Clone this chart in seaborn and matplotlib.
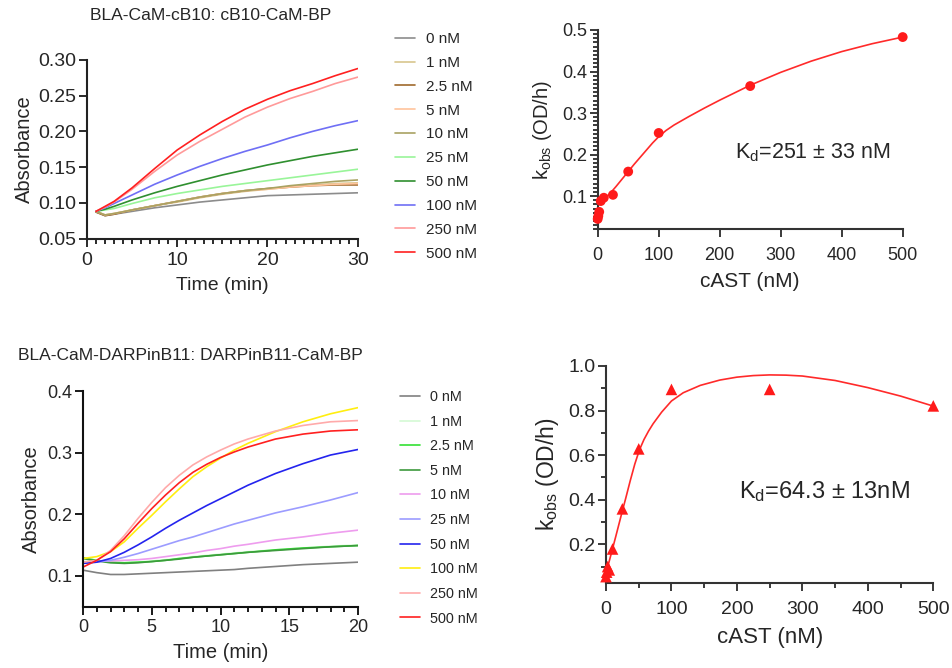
import numpy as np
import pandas as pd
import matplotlib
matplotlib.use('Agg')
import matplotlib.pyplot as plt
import seaborn as sns
from matplotlib.ticker import MultipleLocator, FormatStrFormatter, FixedLocator

# ---------------- data ----------------
conc_labels = ['0 nM', '1 nM', '2.5 nM', '5 nM', '10 nM', '25 nM', '50 nM', '100 nM', '250 nM', '500 nM']

# Panel A: BLA-CaM-cB10 kinetics
time_a = [1, 2, 3, 5, 7.5, 10, 12.5, 15, 17.5, 20, 22.5, 25, 27.5, 30]
a_0 = [0.087, 0.082, 0.084, 0.088, 0.093, 0.097, 0.101, 0.104, 0.107, 0.110, 0.111, 0.112, 0.113, 0.114]
a_1 = [0.088, 0.083, 0.085, 0.090, 0.096, 0.101, 0.107, 0.112, 0.116, 0.119, 0.122, 0.125, 0.127, 0.128]
a_2p5 = [0.087, 0.082, 0.084, 0.090, 0.096, 0.102, 0.108, 0.113, 0.117, 0.120, 0.122, 0.124, 0.125, 0.125]
a_5 = [0.088, 0.083, 0.085, 0.090, 0.096, 0.102, 0.108, 0.113, 0.117, 0.119, 0.122, 0.124, 0.126, 0.127]
a_10 = [0.088, 0.083, 0.085, 0.090, 0.096, 0.102, 0.108, 0.113, 0.117, 0.120, 0.124, 0.127, 0.130, 0.132]
a_25 = [0.088, 0.090, 0.092, 0.099, 0.107, 0.113, 0.118, 0.123, 0.127, 0.131, 0.135, 0.139, 0.143, 0.147]
a_50 = [0.088, 0.091, 0.095, 0.104, 0.114, 0.123, 0.131, 0.139, 0.146, 0.153, 0.159, 0.165, 0.170, 0.175]
a_100 = [0.088, 0.093, 0.099, 0.111, 0.126, 0.139, 0.151, 0.162, 0.172, 0.181, 0.191, 0.200, 0.208, 0.215]
a_250 = [0.088, 0.094, 0.101, 0.119, 0.144, 0.167, 0.186, 0.203, 0.220, 0.234, 0.246, 0.256, 0.267, 0.276]
a_500 = [0.088, 0.095, 0.102, 0.121, 0.148, 0.174, 0.195, 0.214, 0.231, 0.245, 0.257, 0.267, 0.278, 0.288]
colors_a = ['#8c8c8c', '#d8c68e', '#a06a2c', '#ffc49c', '#a9a262', '#99f599', '#2f8f2f', '#6f6ff5', '#ff9a9a', '#ff2020']

# Panel B: cB10 binding
cast_b = [0, 1, 2.5, 5, 10, 25, 50, 100, 250, 500]
kobs_b = [0.045, 0.052, 0.062, 0.088, 0.096, 0.103, 0.159, 0.252, 0.365, 0.483]
fit_b_x = [0, 10, 20, 30, 40, 50, 60, 70, 80, 90, 100, 112, 125, 150, 175, 200, 225, 250, 300, 350, 400, 450, 500]
fit_b_y = [0.080, 0.092, 0.106, 0.123, 0.141, 0.159, 0.177, 0.194, 0.211, 0.228, 0.243, 0.258, 0.271, 0.292,
           0.312, 0.331, 0.349, 0.367, 0.398, 0.425, 0.448, 0.467, 0.483]

# Panel C: DARPinB11 kinetics
time_c = [0, 1, 2, 3, 4, 5, 6, 7, 8, 9, 10, 11, 12, 14, 16, 18, 20]
c_0 = [0.109, 0.105, 0.102, 0.102, 0.103, 0.104, 0.105, 0.106, 0.107, 0.108, 0.109, 0.110, 0.112, 0.115, 0.118, 0.120, 0.122]
c_1 = [0.127, 0.124, 0.121, 0.121, 0.122, 0.124, 0.126, 0.128, 0.131, 0.133, 0.135, 0.137, 0.139, 0.142, 0.145, 0.148, 0.150]
c_2p5 = [0.129, 0.125, 0.122, 0.121, 0.122, 0.123, 0.125, 0.128, 0.130, 0.132, 0.134, 0.136, 0.138, 0.142, 0.145, 0.147, 0.149]
c_5 = [0.128, 0.124, 0.121, 0.120, 0.121, 0.123, 0.125, 0.127, 0.130, 0.132, 0.134, 0.136, 0.138, 0.141, 0.144, 0.147, 0.149]
c_10 = [0.122, 0.123, 0.124, 0.125, 0.126, 0.128, 0.131, 0.134, 0.137, 0.141, 0.144, 0.148, 0.151, 0.158, 0.163, 0.169, 0.174]
c_25 = [0.121, 0.122, 0.125, 0.130, 0.136, 0.143, 0.150, 0.157, 0.163, 0.170, 0.177, 0.184, 0.190, 0.202, 0.212, 0.223, 0.235]
c_50 = [0.120, 0.122, 0.128, 0.138, 0.150, 0.163, 0.177, 0.190, 0.202, 0.214, 0.225, 0.236, 0.247, 0.266, 0.282, 0.296, 0.305]
c_100 = [0.128, 0.131, 0.139, 0.155, 0.177, 0.198, 0.220, 0.241, 0.261, 0.277, 0.291, 0.304, 0.315, 0.334, 0.350, 0.363, 0.373]
c_250 = [0.122, 0.125, 0.141, 0.165, 0.193, 0.219, 0.243, 0.263, 0.280, 0.293, 0.304, 0.314, 0.322, 0.335, 0.344, 0.350, 0.352]
c_500 = [0.114, 0.125, 0.139, 0.160, 0.185, 0.209, 0.231, 0.251, 0.268, 0.281, 0.292, 0.301, 0.309, 0.322, 0.330, 0.335, 0.337]
colors_c = ['#808080', '#d4fad4', '#33e033', '#3d9a3d', '#ee9cee', '#9c9cff', '#2424ee', '#ffee10', '#ffaaaa', '#ff2020']

# Panel D: DARPinB11 binding
cast_d = [0, 1, 2.5, 5, 10, 25, 50, 100, 250, 500]
kobs_d = [0.055, 0.075, 0.100, 0.085, 0.179, 0.359, 0.628, 0.895, 0.895, 0.821]
fit_d_x = [0, 5, 10, 15, 20, 25, 30, 37, 44, 51, 58, 65, 72, 85, 100, 118, 144, 174, 200, 225, 250, 275,
           300, 350, 400, 450, 500]
fit_d_y = [0.070, 0.125, 0.180, 0.236, 0.293, 0.350, 0.405, 0.485, 0.560, 0.623, 0.670, 0.708, 0.741, 0.793,
           0.843, 0.880, 0.913, 0.937, 0.950, 0.957, 0.960, 0.959, 0.955, 0.935, 0.903, 0.865, 0.820]

title_a = 'BLA-CaM-cB10: cB10-CaM-BP'
title_c = 'BLA-CaM-DARPinB11: DARPinB11-CaM-BP'
kd_b = 'K$_{\\mathregular{d}}$=251 ± 33 nM'
kd_d = 'K$_{\\mathregular{d}}$=64.3 ± 13nM'
ylab_k = 'k$_{\\mathregular{obs}}$ (OD/h)'

# ---------------- style ----------------
sns.set_theme(style='ticks')
plt.rcParams['font.family'] = ['Liberation Sans', 'DejaVu Sans']
plt.rcParams['mathtext.fontset'] = 'custom'
plt.rcParams['mathtext.rm'] = 'Liberation Sans'
plt.rcParams['mathtext.it'] = 'Liberation Sans:italic'
plt.rcParams['axes.unicode_minus'] = False

W, H = 952, 668
fig = plt.figure(figsize=(W / 100, H / 100), dpi=100)


def px_axes(l, t, r, b):
    return fig.add_axes([l / W, 1 - b / H, (r - l) / W, (b - t) / H])


def style_axes(ax, lw=1.5, color='#222222'):
    sns.despine(ax=ax)
    for s in ['left', 'bottom']:
        ax.spines[s].set_linewidth(lw)
        ax.spines[s].set_color(color)
    ax.tick_params(which='both', direction='out', color=color, width=lw * 0.9)
    ax.tick_params(which='major', length=5.5)
    ax.tick_params(which='minor', length=3.5)


def long_df(times, series, labels):
    rows = []
    for lab, vals in zip(labels, series):
        for t, v in zip(times, vals):
            rows.append((t, v, lab))
    return pd.DataFrame(rows, columns=['Time', 'Absorbance', 'Conc'])


# ---- Panel A ----
axA = px_axes(87, 60, 357.7, 238.5)
dfA = long_df(time_a, [a_0, a_1, a_2p5, a_5, a_10, a_25, a_50, a_100, a_250, a_500], conc_labels)
sns.lineplot(data=dfA, x='Time', y='Absorbance', hue='Conc', hue_order=conc_labels,
             palette=dict(zip(conc_labels, colors_a)), linewidth=1.2, ax=axA)
axA.set_xlim(0, 30)
axA.set_ylim(0.05, 0.30)
axA.xaxis.set_major_locator(MultipleLocator(10))
axA.xaxis.set_minor_locator(MultipleLocator(1))
axA.yaxis.set_major_locator(MultipleLocator(0.05))
axA.yaxis.set_major_formatter(FormatStrFormatter('%.2f'))
style_axes(axA)
axA.tick_params(axis='both', which='major', labelsize=14, pad=2)
axA.tick_params(axis='x', which='major', pad=4)
axA.set_xlabel('Time (min)', fontsize=14, labelpad=6)
axA.set_ylabel('Absorbance', fontsize=14.5, labelpad=3)
h, l = axA.get_legend_handles_labels()
axA.get_legend().remove()
fig.legend(h, l, loc='upper left', bbox_to_anchor=(395 / W, 1 - 32 / H), frameon=False,
           fontsize=11, handlelength=1.3, handletextpad=0.72, labelspacing=0.645,
           borderpad=0, borderaxespad=0)
fig.text(90 / W, 1 - 16 / H, title_a, fontsize=12.6, ha='left', va='center')

# ---- Panel C ----
axC = px_axes(83, 391, 358, 606.5)
dfC = long_df(time_c, [c_0, c_1, c_2p5, c_5, c_10, c_25, c_50, c_100, c_250, c_500], conc_labels)
sns.lineplot(data=dfC, x='Time', y='Absorbance', hue='Conc', hue_order=conc_labels,
             palette=dict(zip(conc_labels, colors_c)), linewidth=1.2, ax=axC)
axC.set_xlim(0, 20)
axC.set_ylim(0.05, 0.40)
axC.xaxis.set_major_locator(MultipleLocator(5))
axC.xaxis.set_minor_locator(MultipleLocator(1))
axC.yaxis.set_major_locator(FixedLocator([0.1, 0.2, 0.3, 0.4]))
axC.yaxis.set_major_formatter(FormatStrFormatter('%.1f'))
style_axes(axC, color='#111111')
axC.tick_params(axis='both', which='major', labelsize=13, pad=2)
axC.tick_params(axis='x', which='major', pad=3.5)
axC.set_xlabel('Time (min)', fontsize=14.5, labelpad=5)
axC.set_ylabel('Absorbance', fontsize=14.5, labelpad=5)
h, l = axC.get_legend_handles_labels()
axC.get_legend().remove()
fig.legend(h, l, loc='upper left', bbox_to_anchor=(400 / W, 1 - 390 / H), frameon=False,
           fontsize=10.4, handlelength=1.39, handletextpad=0.7, labelspacing=0.735,
           borderpad=0, borderaxespad=0)
fig.text(18 / W, 1 - 355 / H, title_c, fontsize=12.5, ha='left', va='center')

# ---- Panel B ----
axB = px_axes(597.7, 30, 902.7, 229.3)
sns.lineplot(x=fit_b_x, y=fit_b_y, color='#ff2a2a', linewidth=1.2, ax=axB)
sns.scatterplot(x=cast_b, y=kobs_b, color='#ff1a1a', s=50, edgecolor='none', ax=axB,
                clip_on=False, zorder=5)
axB.set_xlim(0, 500)
axB.set_ylim(0.02, 0.5)
axB.xaxis.set_major_locator(MultipleLocator(100))
axB.yaxis.set_major_locator(FixedLocator([0.1, 0.2, 0.3, 0.4, 0.5]))
axB.yaxis.set_minor_locator(MultipleLocator(0.01))
axB.yaxis.set_major_formatter(FormatStrFormatter('%.1f'))
style_axes(axB, color='#333333')
axB.tick_params(axis='both', which='major', labelsize=13, pad=2)
axB.tick_params(axis='x', which='major', pad=7)
axB.set_xlabel('cAST (nM)', fontsize=15, labelpad=6)
axB.set_ylabel(ylab_k, fontsize=14.5, labelpad=6)
axB.text(353, 0.205, kd_b, fontsize=15.5, ha='center', va='center')

# ---- Panel D ----
axD = px_axes(606, 366, 933.3, 583.3)
sns.lineplot(x=fit_d_x, y=fit_d_y, color='#ff2a2a', linewidth=1.2, ax=axD)
sns.scatterplot(x=cast_d, y=kobs_d, color='#ff1a1a', marker='^', s=70, edgecolor='none',
                ax=axD, clip_on=False, zorder=5)
axD.set_xlim(0, 500)
axD.set_ylim(0.025, 1.0)
axD.xaxis.set_major_locator(MultipleLocator(100))
axD.xaxis.set_minor_locator(MultipleLocator(50))
axD.yaxis.set_major_locator(FixedLocator([0.2, 0.4, 0.6, 0.8, 1.0]))
axD.yaxis.set_minor_locator(MultipleLocator(0.1))
axD.yaxis.set_major_formatter(FormatStrFormatter('%.1f'))
style_axes(axD, color='#333333')
axD.tick_params(axis='both', which='major', labelsize=14, pad=2)
axD.tick_params(axis='x', which='major', pad=7)
axD.set_xlabel('cAST (nM)', fontsize=16, labelpad=7)
axD.set_ylabel(ylab_k, fontsize=16.5, labelpad=5)
axD.text(334, 0.435, kd_d, fontsize=17, ha='center', va='center')

fig.savefig('out.png', dpi=100)
